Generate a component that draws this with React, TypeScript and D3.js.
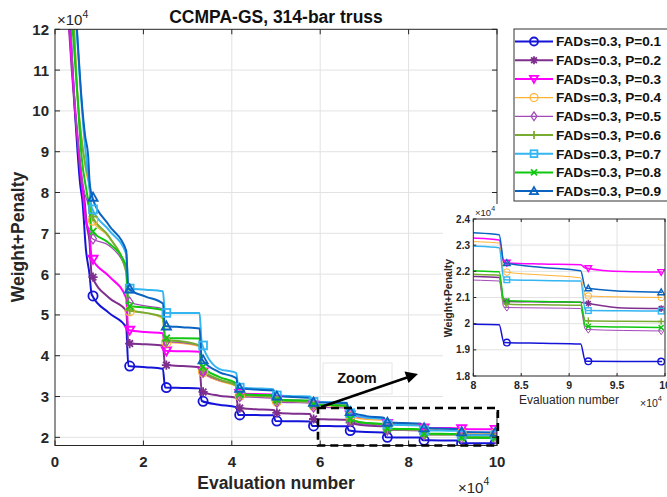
import React from 'react';
import * as d3 from 'd3';

const FONT = '"Liberation Sans", Arial, Helvetica, sans-serif';

const LEGEND_LABELS = [
  'FADs=0.3, P=0.1', 'FADs=0.3, P=0.2', 'FADs=0.3, P=0.3',
  'FADs=0.3, P=0.4', 'FADs=0.3, P=0.5', 'FADs=0.3, P=0.6',
  'FADs=0.3, P=0.7', 'FADs=0.3, P=0.8', 'FADs=0.3, P=0.9',
];
const SERIES_COLORS = ['#1414d8', '#7e2f8e', '#ff00ff', '#ffb233', '#a349b8', '#77ac30', '#33b5f2', '#0fc80f', '#0a63c0'];
const SERIES_MARKERS = ['circle', 'asterisk', 'triDown', 'circle', 'diamond', 'plus', 'square', 'x', 'triUp'];
const THIN = [false, false, false, true, true, false, false, false, false];

// evaluation number (x10^4) where each improvement phase starts (drop)
const DROP_X = [0.78, 1.61, 2.44, 3.27, 4.10, 4.94, 5.77, 6.60, 7.44, 8.27, 9.12];
const DROP_W = 0.05;
const MARKER_X = [0.86, 1.69, 2.52, 3.35, 4.18, 5.02, 5.85, 6.68, 7.52, 8.35, 9.20, 9.96];
const END_X = 9.97;

// initial steep descent, [evaluations x10^4, weight+penalty x10^4]
const HEAD: number[][][] = [
  [[0.33, 12.3], [0.45, 10.0], [0.57, 8.2], [0.62, 7.8], [0.70, 6.6], [0.78, 6.0]],
  [[0.30, 12.3], [0.38, 11.0], [0.45, 10.0], [0.53, 9.0], [0.60, 8.2], [0.66, 7.9], [0.72, 7.2], [0.78, 6.8]],
  [[0.31, 12.3], [0.39, 11.0], [0.46, 10.0], [0.54, 9.0], [0.62, 8.1], [0.70, 7.3], [0.78, 7.0]],
  [[0.43, 12.3], [0.52, 10.3], [0.62, 9.2], [0.70, 8.5], [0.78, 8.1]],
  [[0.35, 12.3], [0.45, 10.2], [0.55, 9.0], [0.65, 8.1], [0.78, 7.5]],
  [[0.42, 12.3], [0.50, 10.5], [0.60, 9.3], [0.70, 8.6], [0.78, 8.2]],
  [[0.47, 12.3], [0.55, 11.0], [0.65, 9.5], [0.73, 8.6], [0.78, 8.1]],
  [[0.38, 12.3], [0.50, 10.5], [0.60, 8.9], [0.72, 8.0], [0.78, 7.6]],
  [[0.48, 12.3], [0.52, 11.6], [0.60, 10.3], [0.68, 9.4], [0.75, 8.9], [0.78, 8.3]],
];

// value right after each drop, mid-phase, and just before the next drop (x10^4)
const SEG_START = [
  [5.50, 3.75, 3.22, 2.89, 2.55, 2.40, 2.28, 2.17, 2.000, 1.928, 1.856],
  [5.97, 4.30, 3.77, 3.12, 2.72, 2.60, 2.45, 2.37, 2.190, 2.085, 2.079],
  [6.40, 4.63, 4.12, 3.62, 3.08, 2.92, 2.80, 2.56, 2.345, 2.233, 2.213],
  [7.35, 5.10, 4.33, 3.62, 3.02, 2.88, 2.78, 2.52, 2.330, 2.198, 2.106],
  [6.88, 5.32, 4.35, 3.62, 3.00, 2.86, 2.74, 2.40, 2.178, 2.062, 1.978],
  [7.45, 5.12, 4.38, 3.68, 3.04, 2.90, 2.80, 2.44, 2.200, 2.075, 2.011],
  [7.63, 5.65, 5.05, 4.30, 3.22, 3.03, 2.87, 2.60, 2.320, 2.168, 2.050],
  [7.07, 5.22, 4.43, 3.75, 3.06, 2.92, 2.80, 2.46, 2.215, 2.088, 1.990],
  [7.94, 5.65, 4.73, 3.92, 3.20, 3.01, 2.86, 2.64, 2.370, 2.233, 2.136],
];
const SEG_MID = [
  [5.05, 3.72, 3.21, 2.80, 2.545, 2.395, 2.275, 2.13, 1.998, 1.925, 1.855],
  [5.42, 4.28, 3.75, 3.02, 2.69, 2.58, 2.44, 2.29, 2.182, 2.083, 2.060],
  [5.95, 4.58, 4.11, 3.40, 3.06, 2.90, 2.79, 2.48, 2.330, 2.228, 2.199],
  [6.90, 5.05, 4.30, 3.38, 3.00, 2.87, 2.77, 2.44, 2.316, 2.186, 2.102],
  [6.70, 5.22, 4.32, 3.40, 2.98, 2.85, 2.73, 2.32, 2.168, 2.060, 1.974],
  [6.92, 5.05, 4.35, 3.42, 3.02, 2.89, 2.79, 2.35, 2.190, 2.072, 2.009],
  [7.08, 5.62, 5.05, 3.68, 3.20, 3.01, 2.86, 2.48, 2.300, 2.165, 2.049],
  [6.76, 5.18, 4.43, 3.48, 3.04, 2.91, 2.79, 2.35, 2.204, 2.085, 1.987],
  [7.20, 5.45, 4.70, 3.60, 3.17, 2.99, 2.85, 2.52, 2.351, 2.215, 2.124],
];
const SEG_END = [
  [4.70, 3.68, 3.20, 2.74, 2.54, 2.39, 2.27, 2.12, 1.996, 1.922, 1.855],
  [5.10, 4.25, 3.72, 2.97, 2.67, 2.57, 2.43, 2.27, 2.176, 2.082, 2.058],
  [5.42, 4.55, 4.10, 3.30, 3.05, 2.89, 2.78, 2.46, 2.320, 2.225, 2.197],
  [6.12, 4.90, 4.22, 3.25, 2.98, 2.86, 2.76, 2.42, 2.308, 2.175, 2.100],
  [6.10, 5.15, 4.25, 3.28, 2.96, 2.84, 2.72, 2.30, 2.163, 2.058, 1.972],
  [6.05, 4.95, 4.25, 3.27, 3.00, 2.88, 2.78, 2.32, 2.185, 2.070, 2.008],
  [6.50, 5.58, 5.05, 3.58, 3.18, 3.00, 2.85, 2.45, 2.290, 2.163, 2.048],
  [6.20, 5.12, 4.42, 3.32, 3.03, 2.90, 2.78, 2.33, 2.198, 2.082, 1.985],
  [6.58, 5.28, 4.67, 3.45, 3.15, 2.97, 2.84, 2.48, 2.340, 2.202, 2.120],
];

const X_TICKS = [0, 2, 4, 6, 8, 10];
const Y_TICKS = [2, 3, 4, 5, 6, 7, 8, 9, 10, 11, 12];
const XI_TICKS = [8, 8.5, 9, 9.5, 10];
const YI_TICKS = [1.8, 1.9, 2.0, 2.1, 2.2, 2.3, 2.4];

function buildKnots(i: number): number[][] {
  const pts: number[][] = HEAD[i].map((d) => [d[0], d[1]]);
  for (let k = 0; k < DROP_X.length; k++) {
    const x0 = DROP_X[k] + DROP_W;
    const x1 = k < DROP_X.length - 1 ? DROP_X[k + 1] : END_X;
    if (k > 0) pts.push([DROP_X[k], SEG_END[i][k - 1]]);
    pts.push([x0, SEG_START[i][k]]);
    pts.push([(x0 + x1) / 2, SEG_MID[i][k]]);
  }
  pts.push([END_X, SEG_END[i][DROP_X.length - 1]]);
  return pts;
}

function interp(pts: number[][], x: number): number {
  for (let j = 0; j < pts.length - 1; j++) {
    if (x >= pts[j][0] && x <= pts[j + 1][0]) {
      const t = (x - pts[j][0]) / (pts[j + 1][0] - pts[j][0]);
      return pts[j][1] + t * (pts[j + 1][1] - pts[j][1]);
    }
  }
  return pts[pts.length - 1][1];
}

function Marker({ type, x, y, s, color, sw }: any) {
  const common = { fill: 'none', stroke: color, strokeWidth: sw };
  switch (type) {
    case 'circle':
      return <circle cx={x} cy={y} r={s} {...common} />;
    case 'square':
      return <rect x={x - s * 0.85} y={y - s * 0.85} width={s * 1.7} height={s * 1.7} {...common} />;
    case 'diamond':
      return <polygon points={`${x},${y - s * 1.1} ${x + s * 0.75},${y} ${x},${y + s * 1.1} ${x - s * 0.75},${y}`} {...common} />;
    case 'triUp':
      return <polygon points={`${x},${y - s} ${x + s},${y + s * 0.75} ${x - s},${y + s * 0.75}`} {...common} />;
    case 'triDown':
      return <polygon points={`${x},${y + s} ${x + s},${y - s * 0.75} ${x - s},${y - s * 0.75}`} {...common} />;
    case 'plus':
      return <path d={`M${x - s},${y}H${x + s}M${x},${y - s}V${y + s}`} {...common} />;
    case 'x': {
      const d = s * 0.75;
      return <path d={`M${x - d},${y - d}L${x + d},${y + d}M${x - d},${y + d}L${x + d},${y - d}`} {...common} />;
    }
    case 'asterisk': {
      const d = s * 0.72;
      return <path d={`M${x - s},${y}H${x + s}M${x},${y - s}V${y + s}M${x - d},${y - d}L${x + d},${y + d}M${x - d},${y + d}L${x + d},${y - d}`} {...common} />;
    }
  }
  return null;
}

export default function App() {
  const xM = d3.scaleLinear().domain([0, 10]).range([55, 497]);
  const yM = d3.scaleLinear().domain([1.8, 12]).range([445.5, 29.3]);
  const xI = d3.scaleLinear().domain([8, 10]).range([473.3, 665]);
  const yI = d3.scaleLinear().domain([1.8, 2.4]).range([376, 219]);

  const series = LEGEND_LABELS.map((label, i) => ({
    label,
    color: SERIES_COLORS[i],
    marker: SERIES_MARKERS[i],
    thin: THIN[i],
    knots: buildKnots(i),
  }));

  const lineM = d3.line<number[]>().x((d) => xM(d[0])).y((d) => yM(d[1])).curve(d3.curveMonotoneX);
  const lineI = d3.line<number[]>().x((d) => xI(d[0])).y((d) => yI(d[1])).curve(d3.curveMonotoneX);

  const axisColor = '#262626';
  const gridColor = '#e2e2e2';
  const [mx0, mx1] = xM.range();
  const [my0, my1] = [yM(12), yM(1.8)];
  const [ix0, ix1] = xI.range();
  const [iy0, iy1] = [yI(2.4), yI(1.8)];

  return (
    <svg width={667} height={497} style={{ position: 'absolute', left: 0, top: 0, background: '#fff' }} fontFamily={FONT}>
      <defs>
        <clipPath id="clipMain">
          <rect x={mx0} y={my0} width={mx1 - mx0} height={my1 - my0} />
        </clipPath>
        <clipPath id="clipInset">
          <rect x={ix0} y={iy0} width={ix1 - ix0} height={iy1 - iy0} />
        </clipPath>
      </defs>
      <rect x={0} y={0} width={667} height={497} fill="#fff" />

      {/* main grid */}
      {X_TICKS.filter((t) => t > 0 && t < 10).map((t) => (
        <line key={'gx' + t} x1={xM(t)} x2={xM(t)} y1={my0} y2={my1} stroke={gridColor} strokeWidth={1} />
      ))}
      {Y_TICKS.filter((t) => t < 12).map((t) => (
        <line key={'gy' + t} x1={mx0} x2={mx1} y1={yM(t)} y2={yM(t)} stroke={gridColor} strokeWidth={1} />
      ))}

      {/* main lines */}
      <g clipPath="url(#clipMain)">
        {series.map((s, i) => (
          <path key={'l' + i} d={lineM(s.knots) || ''} fill="none" stroke={s.color} strokeWidth={s.thin ? 1.2 : 2} strokeLinejoin="round" />
        ))}
        {series.map((s, i) => (
          <g key={'m' + i}>
            {MARKER_X.map((mx, j) => (
              <Marker key={j} type={s.marker} x={xM(mx)} y={yM(interp(s.knots, mx))} s={4.6} color={s.color} sw={s.thin ? 1.2 : 1.8} />
            ))}
          </g>
        ))}
      </g>

      {/* main frame and ticks */}
      <rect x={mx0} y={my0} width={mx1 - mx0} height={my1 - my0} fill="none" stroke={axisColor} strokeWidth={1} />
      {X_TICKS.map((t) => (
        <g key={'tx' + t}>
          <line x1={xM(t)} x2={xM(t)} y1={my1} y2={my1 - 5} stroke={axisColor} />
          <line x1={xM(t)} x2={xM(t)} y1={my0} y2={my0 + 5} stroke={axisColor} />
          <text x={xM(t)} y={467} textAnchor="middle" fontSize={15} fontWeight="bold" fill="#262626">{t}</text>
        </g>
      ))}
      {Y_TICKS.map((t) => (
        <g key={'ty' + t}>
          <line x1={mx0} x2={mx0 + 5} y1={yM(t)} y2={yM(t)} stroke={axisColor} />
          <line x1={mx1} x2={mx1 - 5} y1={yM(t)} y2={yM(t)} stroke={axisColor} />
          <text x={49} y={yM(t)} dy="0.36em" textAnchor="end" fontSize={15} fontWeight="bold" fill="#262626">{t}</text>
        </g>
      ))}
      <text x={57} y={25} fontSize={15} fill="#262626">×10<tspan dy={-7} fontSize={10.5}>4</tspan></text>
      <text x={458} y={493} fontSize={15} fill="#262626">×10<tspan dy={-8} fontSize={10.5}>4</tspan></text>
      <text x={276} y={23} textAnchor="middle" fontSize={17.5} fontWeight="bold" fill="#111">CCMPA-GS, 314-bar truss</text>
      <text x={276} y={489} textAnchor="middle" fontSize={17.5} fontWeight="bold" fill="#262626">Evaluation number</text>
      <text transform="translate(24,237) rotate(-90)" textAnchor="middle" fontSize={17.5} fontWeight="bold" fill="#262626">Weight+Penalty</text>

      {/* legend */}
      <rect x={514} y={29} width={170} height={172} fill="#fff" stroke="#333" strokeWidth={1} />
      {series.map((s, i) => {
        const ly = 41.5 + i * 18.7;
        return (
          <g key={'lg' + i}>
            <line x1={515} x2={553} y1={ly} y2={ly} stroke={s.color} strokeWidth={s.thin ? 1.2 : 2} />
            <Marker type={s.marker} x={534} y={ly} s={4} color={s.color} sw={s.thin ? 1.2 : 1.8} />
            <text x={556} y={ly} dy="0.36em" fontSize={13.6} fontWeight="bold" fill="#111">{s.label}</text>
          </g>
        );
      })}

      {/* inset */}
      <rect x={443} y={204} width={232} height={208} fill="#fff" />
      {XI_TICKS.filter((t) => t > 8 && t < 10).map((t) => (
        <line key={'igx' + t} x1={xI(t)} x2={xI(t)} y1={iy0} y2={iy1} stroke={gridColor} />
      ))}
      {YI_TICKS.filter((t) => t > 1.8 && t < 2.4).map((t) => (
        <line key={'igy' + t} x1={ix0} x2={ix1} y1={yI(t)} y2={yI(t)} stroke={gridColor} />
      ))}
      <g clipPath="url(#clipInset)">
        {series.map((s, i) => (
          <path key={'il' + i} d={lineI(s.knots) || ''} fill="none" stroke={s.color} strokeWidth={s.thin ? 1 : 1.5} strokeLinejoin="round" />
        ))}
        {series.map((s, i) => (
          <g key={'im' + i}>
            {MARKER_X.filter((mx) => mx >= 8).map((mx, j) => (
              <Marker key={j} type={s.marker} x={xI(mx)} y={yI(interp(s.knots, mx))} s={3.3} color={s.color} sw={s.thin ? 1 : 1.4} />
            ))}
          </g>
        ))}
      </g>
      <rect x={ix0} y={iy0} width={ix1 - ix0} height={iy1 - iy0} fill="none" stroke={axisColor} strokeWidth={1} />
      {XI_TICKS.map((t) => (
        <g key={'itx' + t}>
          <line x1={xI(t)} x2={xI(t)} y1={iy1} y2={iy1 - 3} stroke={axisColor} />
          <line x1={xI(t)} x2={xI(t)} y1={iy0} y2={iy0 + 3} stroke={axisColor} />
          <text x={xI(t)} y={389} textAnchor="middle" fontSize={10.5} fontWeight="bold" fill="#262626">{t}</text>
        </g>
      ))}
      {YI_TICKS.map((t) => (
        <g key={'ity' + t}>
          <line x1={ix0} x2={ix0 + 3} y1={yI(t)} y2={yI(t)} stroke={axisColor} />
          <text x={470} y={yI(t)} dy="0.36em" textAnchor="end" fontSize={10} fontWeight="bold" fill="#262626">{t === 2 ? '2' : t.toFixed(1)}</text>
        </g>
      ))}
      <text x={475} y={216} fontSize={9.5} fill="#262626">×10<tspan dy={-5} fontSize={7}>4</tspan></text>
      <text x={640} y={407} fontSize={10.5} fill="#262626">×10<tspan dy={-6} fontSize={7.5}>4</tspan></text>
      <text x={569} y={404} textAnchor="middle" fontSize={12} fill="#262626">Evaluation number</text>
      <text transform="translate(452,298) rotate(-90)" textAnchor="middle" fontSize={10.5} fontWeight="bold" fill="#262626">Weight+Penalty</text>

      {/* zoom annotation */}
      <rect x={xM(5.95)} y={yM(2.72)} width={xM(10.02) - xM(5.95)} height={yM(1.8) - yM(2.72)} fill="none" stroke="#000" strokeWidth={2.6} strokeDasharray="8,5" />
      <rect x={323} y={363} width={69} height={31} fill="#fff" stroke="#e6e6e6" strokeWidth={1} />
      <text x={357} y={383} textAnchor="middle" fontSize={14.5} fontWeight="bold" fill="#111">Zoom</text>
      <line x1={321} y1={407} x2={407} y2={377.5} stroke="#000" strokeWidth={2.4} />
      <polygon points="418,374 404.5,371.5 408.5,383" fill="#000" />
    </svg>
  );
}
